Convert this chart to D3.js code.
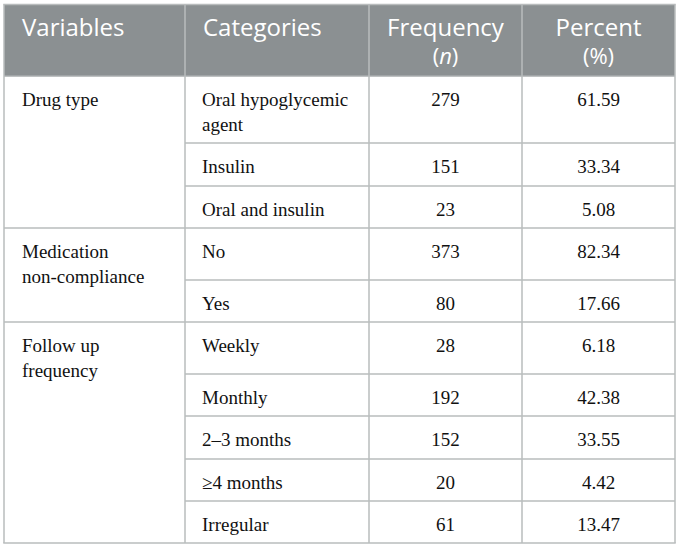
<!DOCTYPE html>
<html>
<head>
<meta charset="utf-8">
<script src="https://cdn.jsdelivr.net/npm/d3@7"></script>
<style>
  html, body { margin: 0; padding: 0; background: #fff; }
</style>
</head>
<body>
<div id="chart"></div>
<script>
// Table data
const headers = [["Variables"], ["Categories"], ["Frequency", "(n)"], ["Percent", "(%)"]];
const groups = [["Drug type"], ["Medication", "non-compliance"], ["Follow up", "frequency"]];
const groupSizes = [3, 2, 5];
const categories = [
  ["Oral hypoglycemic", "agent"], ["Insulin"], ["Oral and insulin"],
  ["No"], ["Yes"],
  ["Weekly"], ["Monthly"], ["2\u20133 months"], ["\u22654 months"], ["Irregular"]
];
const frequency = ["279", "151", "23", "373", "80", "28", "192", "152", "20", "61"];
const percent = ["61.59", "33.34", "5.08", "82.34", "17.66", "6.18", "42.38", "33.55", "4.42", "13.47"];

// Layout
const width = 680, height = 549;
const colEdges = [4, 185, 369, 522, 675];
const headTop = 4.5, headBottom = 76;
const rowHeights = [67, 43, 42, 52, 42, 52, 42, 43, 42, 42];
const lineGap = 25;
const border = "#b9bcbd";

const svg = d3.select("#chart")
  .append("svg")
  .attr("width", width)
  .attr("height", height);

// row tops
const rowTops = [headBottom].concat(Array.from(d3.cumsum(rowHeights), d => headBottom + d));
const tableBottom = rowTops[rowTops.length - 1];

// header background
svg.append("rect")
  .attr("x", colEdges[0])
  .attr("y", headTop)
  .attr("width", colEdges[4] - colEdges[0])
  .attr("height", headBottom - headTop)
  .attr("fill", "#8b9092");

// header texts, one text element per line
headers.forEach((lines, i) => {
  const centered = i >= 2;
  const x = centered ? (colEdges[i] + colEdges[i + 1]) / 2 : colEdges[i] + 18;
  lines.forEach((line, j) => {
    const t = svg.append("text")
      .attr("x", x)
      .attr("y", j === 0 ? 36 : 64)
      .attr("fill", "#fff")
      .attr("font-family", "'Open Sans', sans-serif")
      .attr("font-size", j === 0 ? 24 : 22)
      .attr("text-anchor", centered ? "middle" : "start");
    if (line === "(n)") {
      t.append("tspan").text("(");
      t.append("tspan").attr("font-style", "italic").text("n");
      t.append("tspan").text(")");
    } else {
      t.text(line);
    }
  });
});

const bodyFont = "'Liberation Serif', 'Times New Roman', serif";

function addLines(x, y, lines, anchor) {
  const t = svg.append("text")
    .attr("x", x)
    .attr("y", y)
    .attr("fill", "#111")
    .attr("font-family", bodyFont)
    .attr("font-size", 19)
    .attr("text-anchor", anchor);
  t.selectAll("tspan")
    .data(lines)
    .join("tspan")
    .attr("x", x)
    .attr("dy", (d, j) => j === 0 ? 0 : lineGap)
    .text(d => d);
}

// group labels
let start = 0;
const groupStarts = [];
groups.forEach((lines, g) => {
  groupStarts.push(start);
  addLines(colEdges[0] + 18, rowTops[start] + 30, lines, "start");
  start += groupSizes[g];
});

// body cells
categories.forEach((lines, r) => {
  const y = rowTops[r] + 30;
  addLines(colEdges[1] + 17, y, lines, "start");
  addLines((colEdges[2] + colEdges[3]) / 2, y, [frequency[r]], "middle");
  addLines((colEdges[3] + colEdges[4]) / 2, y, [percent[r]], "middle");
});

// horizontal lines
rowTops.slice(1, -1).forEach((y, r) => {
  const full = groupStarts.includes(r + 1);
  svg.append("line")
    .attr("x1", full ? colEdges[0] : colEdges[1])
    .attr("x2", colEdges[4])
    .attr("y1", y).attr("y2", y)
    .attr("stroke", border)
    .attr("stroke-width", 1.5);
});

// header bottom line
svg.append("line")
  .attr("x1", colEdges[0]).attr("x2", colEdges[4])
  .attr("y1", headBottom).attr("y2", headBottom)
  .attr("stroke", "#a9adae")
  .attr("stroke-width", 1.5);

// vertical lines
colEdges.forEach(x => {
  svg.append("line")
    .attr("x1", x).attr("x2", x)
    .attr("y1", headTop).attr("y2", tableBottom)
    .attr("stroke", border)
    .attr("stroke-width", 1.5);
});

// outer border top and bottom
[headTop, tableBottom].forEach(y => {
  svg.append("line")
    .attr("x1", colEdges[0] - 0.75).attr("x2", colEdges[4] + 0.75)
    .attr("y1", y).attr("y2", y)
    .attr("stroke", border)
    .attr("stroke-width", 1.5);
});
</script>
</body>
</html>
